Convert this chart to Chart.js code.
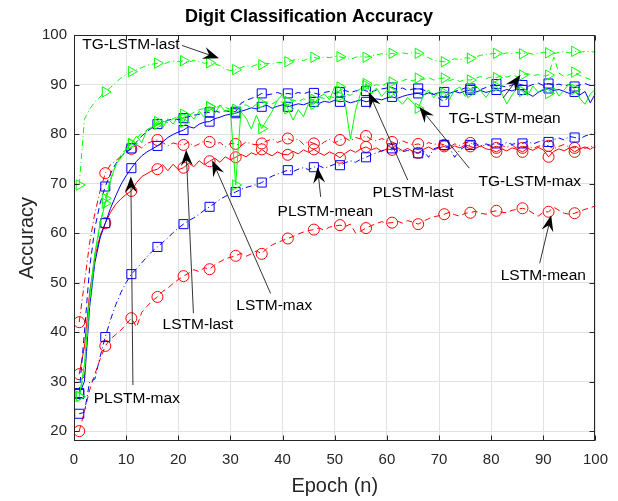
<!DOCTYPE html>
<html>
<head>
<meta charset="utf-8">
<title>Digit Classification Accuracy</title>
<script src="https://cdn.jsdelivr.net/npm/chart.js@4.4.1/dist/chart.umd.min.js"></script>
<style>
  html, body { margin: 0; padding: 0; background: #fff; }
  #wrap { width: 618px; height: 501px; }
</style>
</head>
<body>
<div id="wrap"><canvas id="acc-chart" width="618" height="501"></canvas></div>
<script>
// epochs 1..100, markers every 5th epoch (1, 6, 11, ...)
const epochs = Array.from({ length: 100 }, (_, i) => i + 1);
const xTicks = [0, 10, 20, 30, 40, 50, 60, 70, 80, 90, 100];
const yTicks = [20, 30, 40, 50, 60, 70, 80, 90, 100];

// LSTM (red)
const lstmLast = [
  42, 50, 58, 64, 68.5, 72.1, 73.8, 74.6, 75.5, 76.3,
  77, 77.8, 77.2, 78.1, 78.5, 78.8, 78.3, 77.6, 78.2, 77.9,
  77.8, 78.4, 77.5, 78.0, 78.6, 78.4, 77.9, 78.3, 77.4, 78.1,
  78.0, 77.6, 78.4, 78.0, 77.8, 78.1, 78.6, 79.0, 78.3, 78.7,
  79.1, 78.6, 79.0, 77.9, 78.5, 78.1, 77.6, 78.4, 78.9, 78.2,
  78.8, 79.2, 78.6, 79.3, 79.0, 79.6, 78.9, 78.6, 79.1, 78.7,
  78.4, 77.9, 78.6, 78.2, 77.8, 78.0, 77.6, 78.3, 77.9, 78.1,
  77.8, 77.4, 78.0, 77.7, 78.3, 78.2, 77.8, 77.4, 77.9, 77.5,
  77.2, 77.7, 77.3, 77.8, 77.0, 77.2, 77.6, 77.1, 77.5, 77.8,
  77.6, 77.0, 77.5, 77.9, 77.3, 77.2, 77.6, 77.1, 77.5, 77.3
];
const lstmMax = [
  31.5, 37, 48, 55, 59.5, 62, 64.2, 65.8, 66.9, 67.8,
  68.5, 70.2, 71.4, 72.0, 72.6, 72.9, 73.8, 72.6, 73.9, 72.8,
  73.2, 74.1, 73.4, 74.6, 73.8, 74.5, 75.1, 74.3, 75.4, 74.8,
  75.3, 75.9, 75.4, 76.2, 75.8, 76.9, 76.1, 75.6, 76.4, 75.9,
  75.8, 76.5, 76.0, 76.8, 76.3, 76.9, 76.2, 75.7, 76.4, 75.9,
  75.2, 76.1, 76.8, 76.3, 77.0, 77.4, 76.8, 77.2, 76.5, 77.0,
  76.8, 77.3, 76.6, 77.1, 76.5, 76.2, 76.9, 77.4, 76.8, 77.2,
  77.5, 77.0, 77.6, 77.2, 77.8, 77.5, 77.1, 77.6, 77.0, 76.8,
  76.4, 77.0, 76.6, 77.2, 76.9, 76.4, 77.1, 76.7, 77.3, 76.8,
  75.4, 76.5, 77.0, 76.6, 77.2, 76.4, 77.0, 77.4, 76.9, 77.6
];
const lstmMean = [
  20, 24, 28.3, 31.5, 34.5, 37.2, 38.6, 39.5, 40.4, 41.6,
  42.8, 41.0, 44.0, 45.2, 46.3, 47.1, 48.2, 48.9, 49.8, 50.6,
  51.3, 51.9, 52.6, 52.2, 53.0, 52.7, 53.6, 54.2, 54.8, 55.1,
  55.4, 55.9, 55.3, 55.8, 56.4, 55.8, 56.9, 57.6, 58.1, 58.5,
  58.9, 59.3, 59.8, 60.2, 60.5, 60.7, 61.0, 60.6, 61.2, 61.4,
  61.6, 61.3, 61.8, 60.0, 60.4, 61.0, 61.5, 61.9, 62.3, 62.0,
  62.1, 62.4, 62.0, 62.5, 62.2, 61.8, 62.4, 62.9, 63.3, 63.5,
  63.8, 64.2, 63.7, 63.4, 64.0, 64.1, 64.4, 64.0, 63.8, 64.3,
  64.5, 64.2, 64.1, 64.6, 64.8, 65.0, 64.7, 64.0, 63.4, 64.2,
  64.3, 65.2, 64.6, 64.0, 63.8, 64.0, 64.4, 64.8, 65.1, 65.5
];

// PLSTM (blue)
const plstmLast = [
  27.7, 40, 53, 61, 66, 69.4, 72.0, 74.0, 75.4, 76.4,
  77.1, 78.4, 79.6, 80.5, 81.3, 82.0, 82.3, 82.8, 83.0, 82.9,
  83.2, 83.5, 83.8, 84.0, 84.3, 84.4, 84.6, 84.4, 84.7, 84.5,
  84.5, 86.2, 86.8, 87.2, 87.6, 88.2, 87.9, 88.1, 88.4, 88.0,
  88.2, 88.0, 88.4, 88.1, 88.5, 88.3, 88.0, 88.4, 88.6, 88.2,
  88.5, 88.8, 88.4, 88.7, 89.0, 88.7, 88.5, 88.9, 89.1, 89.3,
  89.4, 89.0, 89.3, 88.8, 89.1, 89.2, 88.9, 88.5, 88.0, 87.2,
  86.5, 87.8, 88.6, 88.9, 89.3, 89.2, 89.5, 89.0, 89.4, 89.8,
  90.1, 89.7, 89.5, 89.9, 90.2, 89.9, 89.6, 90.0, 90.3, 89.8,
  90.2, 89.8, 90.1, 89.7, 90.0, 89.6, 89.9, 90.2, 89.8, 90.0
];
const plstmMax = [
  27.5, 30, 45, 54, 59, 62, 65, 67.5, 69.8, 71.6,
  73.1, 74.5, 75.6, 76.4, 77.0, 77.6, 78.4, 79.3, 79.9, 80.4,
  80.8, 81.5, 81.2, 82.0, 82.4, 82.5, 83.1, 83.4, 83.8, 84.0,
  84.2, 84.6, 84.9, 85.3, 85.1, 85.5, 85.8, 85.2, 85.6, 85.9,
  85.5, 85.8, 86.1, 85.9, 86.3, 86.5, 86.2, 86.6, 86.4, 86.8,
  86.5, 86.7, 86.3, 86.6, 86.9, 86.5, 86.8, 87.1, 86.9, 87.3,
  87.5, 87.2, 87.6, 87.9, 88.1, 88.2, 87.9, 88.3, 88.0, 88.4,
  88.5, 88.2, 88.6, 88.3, 88.7, 88.9, 88.5, 88.8, 88.4, 88.7,
  88.9, 88.6, 89.0, 88.7, 89.1, 88.9, 88.2, 87.6, 88.4, 88.9,
  89.2, 88.8, 89.0, 88.6, 88.2, 88.5, 87.9, 88.6, 86.3, 88.2
];
const plstmMean = [
  23.5, 23.8, 30.0, 30.5, 35.0, 39.0, 42.5, 45.5, 48.0, 50.0,
  51.7, 52.8, 54.0, 55.2, 56.3, 57.2, 58.1, 59.0, 60.1, 61.0,
  61.8, 62.5, 63.1, 63.8, 64.6, 65.3, 66.0, 66.8, 67.4, 67.9,
  68.3, 68.8, 69.2, 69.5, 69.8, 70.2, 70.9, 71.5, 71.9, 72.3,
  72.7, 72.4, 72.9, 73.2, 72.8, 73.3, 73.6, 73.1, 73.5, 73.9,
  73.7, 74.2, 74.6, 74.3, 74.9, 75.3, 75.8, 76.2, 76.6, 76.9,
  77.1, 76.8, 76.4, 76.7, 76.3, 76.1, 76.6, 75.3, 77.0, 77.4,
  77.8, 77.2, 75.3, 76.8, 77.5, 77.8, 78.1, 77.6, 78.0, 77.7,
  78.1, 77.8, 78.3, 77.9, 78.2, 78.1, 78.5, 78.0, 78.4, 78.7,
  78.4, 78.9, 79.2, 78.8, 79.5, 79.3, 79.0, 79.6, 79.9, 80.2
];

// TG-LSTM (green)
const tgLast = [
  69.7, 83.0, 85.0, 86.5, 87.5, 88.5, 89.4, 90.4, 91.3, 92.0,
  92.6, 93.0, 93.4, 93.9, 94.1, 94.3, 94.0, 94.5, 94.7, 94.6,
  94.8, 94.5, 94.9, 94.6, 94.3, 94.4, 94.2, 93.8, 93.1, 92.8,
  93.0, 93.4, 93.8, 93.6, 94.0, 94.0, 94.3, 94.1, 94.5, 94.4,
  94.6, 94.9, 95.1, 94.8, 95.3, 95.5, 95.2, 95.6, 95.4, 95.7,
  95.6, 95.3, 95.1, 95.5, 95.7, 95.5, 95.8, 96.0, 96.2, 96.1,
  96.3, 96.0, 96.4, 96.2, 96.5, 96.3, 95.9, 95.4, 94.9, 94.7,
  94.6, 94.9, 95.2, 95.0, 95.4, 95.3, 95.6, 95.9, 96.1, 96.2,
  96.3, 96.1, 96.4, 96.2, 96.5, 96.2, 96.4, 96.1, 96.3, 96.5,
  96.4, 96.2, 96.5, 96.6, 96.4, 96.7, 96.5, 96.7, 96.6, 96.6
];
const tgMax = [
  27.0, 33.5, 47.0, 56.0, 62.0, 66.0, 70.5, 73.8, 75.2, 76.9,
  78.1, 79.6, 78.2, 80.9, 81.4, 82.5, 81.2, 83.1, 82.0, 83.6,
  82.4, 84.1, 83.0, 84.6, 83.4, 85.5, 84.2, 85.8, 84.6, 84.9,
  69.7, 84.5, 83.2, 81.0, 83.8, 81.1, 82.9, 84.6, 86.8, 88.0,
  85.1, 82.8, 84.9, 83.5, 86.2, 86.0, 87.5, 88.1, 86.9, 89.6,
  89.5, 86.2, 79.0, 84.8, 88.4, 90.2, 88.1, 89.3, 87.6, 88.8,
  88.5, 87.1, 86.0, 87.4, 86.3, 85.2, 87.8, 88.9, 87.3, 88.6,
  88.3, 87.0, 88.9, 89.5, 87.6, 88.4, 89.8, 88.7, 87.4, 88.9,
  89.6, 88.2, 86.1, 87.9, 89.3, 88.6, 87.8, 89.7, 88.5, 89.1,
  88.2, 89.4, 87.7, 88.9, 90.2, 89.0, 87.2, 86.0, 88.1, 89.0
];
const tgMean = [
  27.0, 32.0, 45.5, 55.0, 61.5, 67.0, 71.0, 73.5, 75.8, 77.0,
  78.0, 79.2, 80.1, 80.8, 81.5, 82.0, 82.6, 82.3, 83.1, 83.5,
  84.0, 83.7, 84.4, 84.9, 85.2, 85.5, 85.1, 85.8, 85.4, 85.0,
  85.0, 85.6, 85.9, 85.3, 86.0, 86.2, 86.5, 86.1, 86.7, 86.4,
  86.6, 86.9, 86.5, 87.1, 86.8, 87.0, 87.4, 87.2, 87.6, 87.3,
  87.6, 88.1, 87.8, 88.5, 89.2, 89.8, 89.5, 90.0, 89.7, 90.3,
  90.5, 90.2, 90.8, 91.1, 90.7, 91.3, 91.0, 91.4, 90.9, 91.2,
  91.3, 90.8, 91.1, 90.6, 91.0, 90.9, 91.3, 91.6, 91.2, 91.5,
  91.4, 91.8, 91.5, 91.9, 91.6, 91.9, 92.2, 91.8, 92.0, 91.7,
  91.9, 95.5, 92.3, 91.6, 92.0, 92.5, 91.8, 91.4, 91.0, 90.8
];

// text arrows: label centre (tx,ty), arrow tail (fx,fy), arrow tip (ax,ay), in data units
const notes = [
  { text: 'TG-LSTM-last', tx: 10.9, ty: 98.0, fx: 20.7, fy: 97.9, ax: 27.8, ay: 95.3 },
  { text: 'TG-LSTM-mean', tx: 82.6, ty: 83.0, fx: 82.3, fy: 87.3, ax: 85.6, ay: 91.9 },
  { text: 'TG-LSTM-max', tx: 87.4, ty: 70.4, fx: 75.8, fy: 73.1, ax: 66.2, ay: 85.5 },
  { text: 'PLSTM-last', tx: 65.0, ty: 68.1, fx: 64.0, fy: 70.7, ax: 56.5, ay: 88.5 },
  { text: 'PLSTM-mean', tx: 48.2, ty: 64.3, fx: 47.3, fy: 67.3, ax: 46.7, ay: 73.3 },
  { text: 'LSTM-last', tx: 23.75, ty: 41.4, fx: 22.9, fy: 43.8, ax: 21.5, ay: 76.8 },
  { text: 'LSTM-max', tx: 38.4, ty: 45.3, fx: 37.7, fy: 47.8, ax: 26.5, ay: 74.7 },
  { text: 'PLSTM-max', tx: 12.05, ty: 26.6, fx: 11.3, fy: 29.3, ax: 10.9, ay: 71.4 },
  { text: 'LSTM-mean', tx: 90.0, ty: 51.3, fx: 89.3, fy: 53.9, ax: 91.5, ay: 63.6 }
];

const RED = '#ff0000', BLUE = '#0000ff', GREEN = '#00ff00';
const SOLID = [], DASHED = [6, 4], DASHDOT = [6, 3, 1, 3];
const CIRCLE = { style: 'circle', r: 5.5, rot: 0 };
const SQUARE = { style: 'rect', r: 6.4, rot: 0 };
const TRI = { style: 'triangle', r: 6, rot: 90 };   // MATLAB '>' marker

function series(label, data, color, dash, mk) {
  return {
    label: label,
    data: data,
    borderColor: color,
    backgroundColor: color,
    borderWidth: 1,
    borderDash: dash,
    tension: 0,
    fill: false,
    pointStyle: mk.style,
    pointRotation: mk.rot,
    pointRadius: ctx => (ctx.dataIndex % 5 === 0 ? mk.r : 0),
    pointBorderColor: color,
    pointBackgroundColor: 'rgba(0,0,0,0)',
    pointBorderWidth: 1
  };
}

// box, inward ticks and the text arrows, drawn on top like MATLAB does
const matlabAxes = {
  id: 'matlabAxes',
  afterDatasetsDraw(chart) {
    const { ctx, chartArea: a, scales: { x, y } } = chart;
    const L = Math.round(a.left) + 0.5, R = Math.round(a.right) - 0.5;
    const T = Math.round(a.top) + 0.5, B = Math.round(a.bottom) - 0.5;
    ctx.save();
    ctx.strokeStyle = '#262626';
    ctx.lineWidth = 1;
    ctx.beginPath();
    xTicks.forEach(v => {
      const px = Math.round(x.getPixelForValue(v)) + 0.5;
      ctx.moveTo(px, B); ctx.lineTo(px, B - 5);
      ctx.moveTo(px, T); ctx.lineTo(px, T + 5);
    });
    yTicks.forEach(v => {
      const py = Math.round(y.getPixelForValue(v)) + 0.5;
      ctx.moveTo(L, py); ctx.lineTo(L + 5, py);
      ctx.moveTo(R, py); ctx.lineTo(R - 5, py);
    });
    ctx.stroke();
    ctx.strokeRect(L, T, R - L, B - T);

    // annotations
    ctx.font = '15.5px "Liberation Sans", Arial, sans-serif';
    ctx.textAlign = 'center';
    ctx.textBaseline = 'middle';
    notes.forEach(n => {
      const x0 = x.getPixelForValue(n.fx), y0 = y.getPixelForValue(n.fy);
      const x1 = x.getPixelForValue(n.ax), y1 = y.getPixelForValue(n.ay);
      const len = Math.hypot(x1 - x0, y1 - y0);
      const ux = (x1 - x0) / len, uy = (y1 - y0) / len;
      const hl = 16, hw = 6;
      ctx.strokeStyle = '#000';
      ctx.lineWidth = 0.8;
      ctx.beginPath();
      ctx.moveTo(x0, y0);
      ctx.lineTo(x1 - ux * hl * 0.6, y1 - uy * hl * 0.6);
      ctx.stroke();
      ctx.fillStyle = '#000';
      ctx.beginPath();
      ctx.moveTo(x1, y1);
      ctx.lineTo(x1 - ux * hl - uy * hw, y1 - uy * hl + ux * hw);
      ctx.lineTo(x1 - ux * hl * 0.65, y1 - uy * hl * 0.65);
      ctx.lineTo(x1 - ux * hl + uy * hw, y1 - uy * hl - ux * hw);
      ctx.closePath();
      ctx.fill();
      ctx.fillText(n.text, x.getPixelForValue(n.tx), y.getPixelForValue(n.ty));
    });
    ctx.restore();
  }
};

Chart.defaults.font.family = '"Liberation Sans", Arial, sans-serif';
Chart.defaults.color = '#262626';

const ctx = document.getElementById('acc-chart').getContext('2d');
new Chart(ctx, {
  type: 'line',
  data: {
    labels: epochs,
    datasets: [
      series('TG-LSTM-last', tgLast, GREEN, DASHDOT, TRI),
      series('TG-LSTM-max', tgMax, GREEN, SOLID, TRI),
      series('TG-LSTM-mean', tgMean, GREEN, DASHED, TRI),
      series('PLSTM-last', plstmLast, BLUE, DASHED, SQUARE),
      series('PLSTM-max', plstmMax, BLUE, SOLID, SQUARE),
      series('PLSTM-mean', plstmMean, BLUE, DASHDOT, SQUARE),
      series('LSTM-last', lstmLast, RED, DASHDOT, CIRCLE),
      series('LSTM-max', lstmMax, RED, SOLID, CIRCLE),
      series('LSTM-mean', lstmMean, RED, DASHED, CIRCLE)
    ]
  },
  options: {
    responsive: false,
    animation: false,
    events: [],
    layout: { padding: 0 },
    plugins: {
      legend: { display: false },
      tooltip: { enabled: false },
      title: {
        display: true,
        text: 'Digit Classification Accuracy',
        color: '#000',
        font: { size: 18, weight: 'bold' },
        padding: { top: 6, bottom: 7.4 }
      }
    },
    scales: {
      x: {
        type: 'linear',
        min: 0,
        max: 100,
        afterBuildTicks: s => { s.ticks = xTicks.map(v => ({ value: v })); },
        afterFit: s => { s.height = 60; },
        grid: { color: '#e1e1e1', drawTicks: false },
        border: { display: false },
        ticks: { font: { size: 15 }, padding: 10, maxRotation: 0 },
        title: { display: true, text: 'Epoch (n)', font: { size: 20 }, padding: { top: 0, bottom: 3 } }
      },
      y: {
        type: 'linear',
        min: 18,
        max: 100,
        afterBuildTicks: s => { s.ticks = yTicks.map(v => ({ value: v })); },
        afterFit: s => { s.width = 74; },
        grid: { color: '#e1e1e1', drawTicks: false },
        border: { display: false },
        ticks: { font: { size: 15 }, padding: 7 },
        title: { display: true, text: 'Accuracy', font: { size: 20 }, padding: { top: 15, bottom: 0 } }
      },
      // empty right-hand strip so the plot ends at x=596 while the title stays centred on the page
      yRight: {
        type: 'linear',
        position: 'right',
        display: true,
        grid: { display: false },
        border: { display: false },
        ticks: { display: false },
        afterFit: s => { s.width = 22; }
      }
    }
  },
  plugins: [matlabAxes]
});
</script>
</body>
</html>
